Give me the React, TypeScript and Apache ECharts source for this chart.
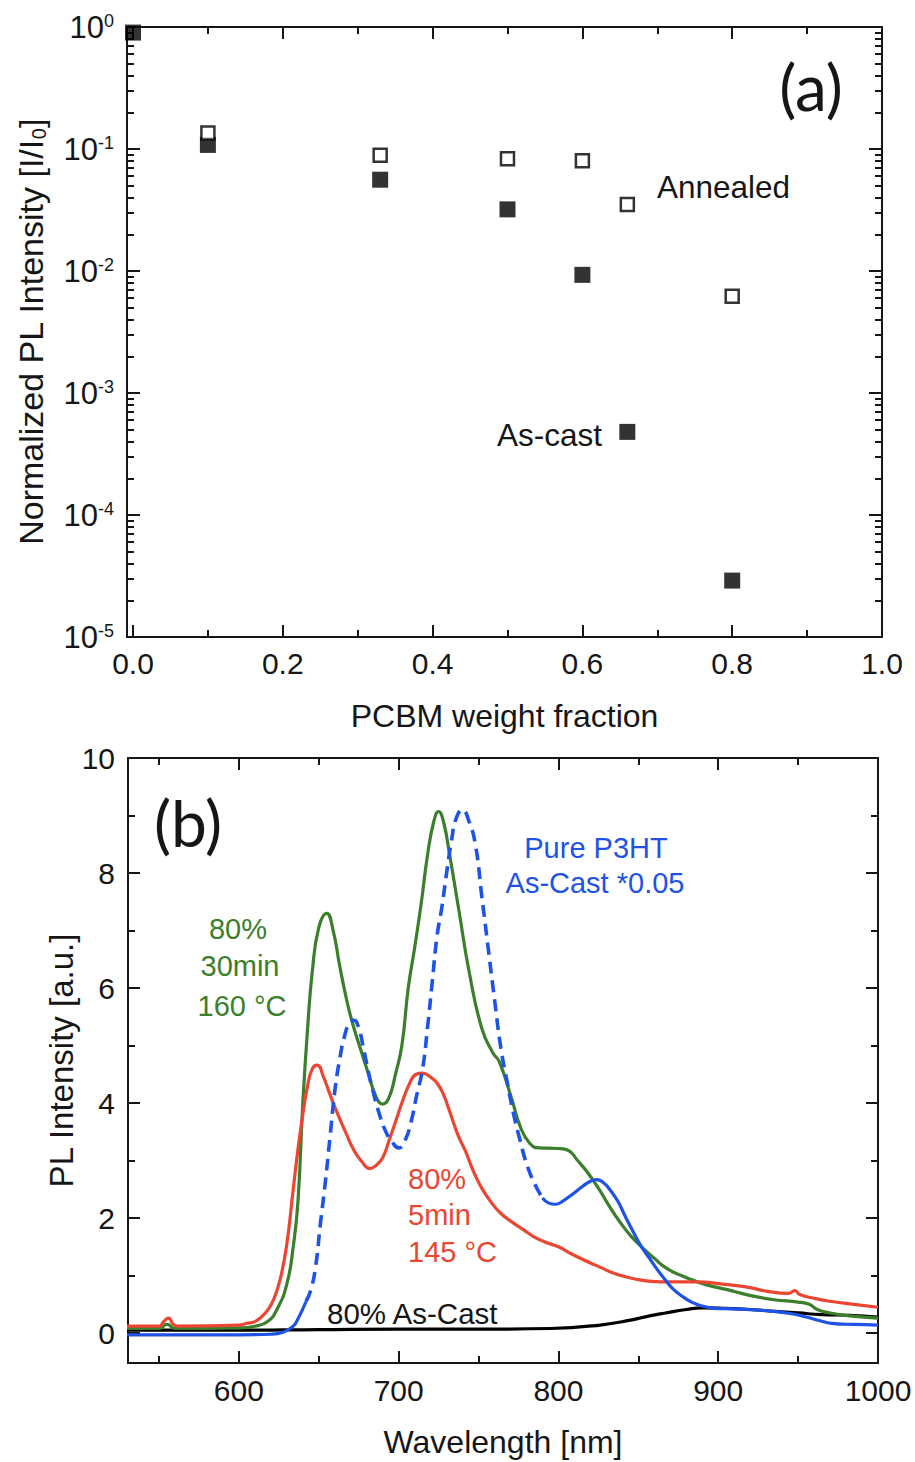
import React, { useEffect, useRef } from "react";
import * as echarts from "echarts";

const FONT = "'Liberation Sans', Arial, Helvetica, sans-serif";
const LABEL_FONT = "Lato, 'Open Sans', sans-serif";
const INK = "#161616";
const GREEN = "#3b7f2c";
const RED = "#eb4632";
const BLUE = "#1f52e6";

// ---------- Panel (a): normalized PL vs PCBM weight fraction ----------
const asCastFraction = [0, 0.1, 0.33, 0.5, 0.6, 0.66, 0.8];
const asCastPL = [0.9, 0.108, 0.056, 0.032, 0.0093, 0.00048, 0.000029];
const annealedFraction = [0.1, 0.33, 0.5, 0.6, 0.66, 0.8];
const annealedPL = [0.135, 0.089, 0.083, 0.08, 0.035, 0.0062];

const aXMajor = [0, 0.2, 0.4, 0.6, 0.8, 1.0];
const aXMinor = [0.1, 0.3, 0.5, 0.7, 0.9];
const aYMajor = [1e-5, 1e-4, 1e-3, 1e-2, 1e-1, 1];
const aYMinorMantissa = [2, 3, 4, 5, 6, 7, 8, 9];
const aYDecades = [1e-5, 1e-4, 1e-3, 1e-2, 1e-1];

// ---------- Panel (b): PL spectra ----------
const green80_30min_160C = [
  [530, 0.08], [550, 0.08], [555, 0.15], [560, 0.08], [600, 0.09], [610, 0.12], [618, 0.2],
  [624, 0.42], [630, 0.85], [634, 1.5], [637, 2.3], [640, 4.0], [643, 5.3], [646, 6.3],
  [650, 7.05], [655, 7.3], [659, 7.0], [663, 6.4], [667, 5.85], [671, 5.4], [676, 4.95],
  [680, 4.6], [686, 4.1], [690, 3.98], [694, 4.1], [698, 4.5], [702, 5.0], [706, 6.0],
  [710, 6.7], [714, 7.45], [718, 8.3], [722, 8.9], [725, 9.07], [728, 8.9], [732, 8.3],
  [738, 7.3], [744, 6.3], [752, 5.3], [759, 4.87], [763, 4.72], [771, 4.05], [776, 3.6],
  [782, 3.3], [788, 3.22], [800, 3.21], [806, 3.18], [812, 3.0], [818, 2.8], [825, 2.52],
  [832, 2.2], [838, 1.95], [845, 1.7], [852, 1.5], [860, 1.3], [868, 1.12], [877, 1.0],
  [886, 0.9], [894, 0.83], [905, 0.76], [919, 0.66], [935, 0.58], [950, 0.54], [957, 0.5],
  [962, 0.41], [970, 0.35], [982, 0.3], [1000, 0.26],
];

const red80_5min_145C = [
  [530, 0.12], [550, 0.12], [553, 0.2], [556, 0.26], [559, 0.15], [562, 0.12], [600, 0.14],
  [605, 0.17], [610, 0.2], [614, 0.28], [618, 0.4], [622, 0.6], [626, 0.95], [630, 1.55],
  [634, 2.5], [637, 3.2], [640, 3.8], [643, 4.3], [646, 4.6], [649, 4.66], [653, 4.45],
  [657, 4.15], [662, 3.8], [667, 3.48], [672, 3.18], [677, 2.98], [682, 2.86], [686, 2.92],
  [690, 3.05], [694, 3.35], [698, 3.67], [702, 4.0], [707, 4.35], [711, 4.5], [715, 4.52],
  [720, 4.45], [724, 4.35], [728, 4.15], [732, 3.85], [737, 3.45], [742, 3.15], [747, 2.8],
  [752, 2.52], [758, 2.27], [764, 2.08], [771, 1.93], [778, 1.8], [785, 1.67], [792, 1.58],
  [800, 1.5], [808, 1.38], [816, 1.27], [825, 1.16], [833, 1.06], [842, 0.98], [850, 0.93],
  [858, 0.9], [870, 0.89], [888, 0.89], [900, 0.86], [910, 0.83], [920, 0.79], [930, 0.73],
  [944, 0.69], [948, 0.74], [951, 0.67], [961, 0.6], [971, 0.55], [985, 0.5], [1000, 0.45],
];

const blueP3HTLow = [
  [530, -0.03], [600, -0.03], [620, -0.02], [628, 0.02], [634, 0.12], [637, 0.25], [640, 0.42],
  [642, 0.55],
];
const blueP3HTDashed = [
  [642, 0.55], [645, 0.75], [648, 1.15], [651, 1.9], [654, 2.6], [657, 3.4], [660, 4.2],
  [663, 4.75], [666, 5.15], [669, 5.38], [672, 5.44], [675, 5.3], [678, 4.95], [681, 4.55],
  [684, 4.2], [688, 3.8], [692, 3.5], [696, 3.32], [700, 3.22], [704, 3.35], [708, 3.7],
  [711, 4.1], [715, 4.6], [718, 5.3], [721, 6.1], [724, 6.9], [727, 7.4], [730, 8.0],
  [733, 8.55], [736, 8.95], [740, 9.1], [744, 8.9], [748, 8.5], [752, 7.6], [756, 6.7],
  [760, 5.8], [764, 4.95], [768, 4.35], [772, 3.8], [776, 3.35], [780, 2.95], [785, 2.6],
  [790, 2.35],
];
const blueP3HTHigh = [
  [790, 2.35], [794, 2.26], [798, 2.24], [803, 2.3], [809, 2.42], [815, 2.55], [820, 2.64],
  [824, 2.67], [828, 2.62], [832, 2.5], [837, 2.3], [842, 2.02], [847, 1.75], [852, 1.5],
  [857, 1.3], [862, 1.1], [867, 0.92], [872, 0.76], [878, 0.63], [884, 0.53], [890, 0.47],
  [898, 0.43], [910, 0.42], [930, 0.39], [945, 0.34], [955, 0.28], [963, 0.22], [971, 0.17],
  [985, 0.15], [1000, 0.14],
];

const black80AsCast = [
  [530, 0.05], [600, 0.05], [650, 0.06], [700, 0.07], [760, 0.07], [795, 0.08], [826, 0.14],
  [846, 0.23], [857, 0.3], [867, 0.35], [880, 0.41], [890, 0.44], [905, 0.43], [920, 0.41],
  [935, 0.38], [950, 0.35], [965, 0.32], [982, 0.31], [1000, 0.28],
];

const bXMajor = [600, 700, 800, 900, 1000];
const bXMinor = [550, 650, 750, 850, 950];
const bYMajor = [0, 2, 4, 6, 8, 10];
const bYMinor = [1, 3, 5, 7, 9];

// ---------- helpers ----------
function tickAxis(
  gridIndex: number,
  position: string,
  range: any,
  ticks: number[],
  len: number,
  showLine: boolean,
  label?: any,
  extra?: any
) {
  return {
    gridIndex,
    position,
    ...range,
    axisLine: { show: showLine, onZero: false, lineStyle: { color: INK, width: 2 } },
    axisTick: {
      show: true,
      inside: true,
      length: len,
      customValues: ticks,
      lineStyle: { color: INK, width: 2 },
    },
    axisLabel: label ?? { show: false },
    splitLine: { show: false },
    minorTick: { show: false },
    minorSplitLine: { show: false },
    nameMoveOverlap: false,
    ...(extra || {}),
  };
}

function buildOption() {
  const aYMinor: number[] = [];
  aYDecades.forEach((d) => aYMinorMantissa.forEach((m) => aYMinor.push(m * d)));

  const aXRange = { type: "value", min: -0.008, max: 1.0 };
  const aYRange = { type: "log", logBase: 10, min: 1e-5, max: 1 };
  const bXRange = { type: "value", min: 530.6, max: 1000 };
  const bYRange = { type: "value", min: -0.52, max: 10 };

  const tickText = { fontSize: 30, fontFamily: FONT, color: INK };

  const xAxes = [
    tickAxis(0, "bottom", aXRange, aXMajor, 12, true,
      { ...tickText, customValues: aXMajor, margin: 11, formatter: (v: number) => v.toFixed(1) },
      {
        name: "PCBM weight fraction", nameLocation: "middle", nameGap: 63,
        nameTextStyle: { fontSize: 32, fontFamily: FONT, color: INK },
      }),
    tickAxis(0, "bottom", aXRange, aXMinor, 7, false),
    tickAxis(0, "top", aXRange, aXMajor, 12, true),
    tickAxis(0, "top", aXRange, aXMinor, 7, false),
    tickAxis(1, "bottom", bXRange, bXMajor, 12, true,
      { ...tickText, customValues: bXMajor, margin: 12, formatter: (v: number) => String(v) },
      {
        name: "Wavelength [nm]", nameLocation: "middle", nameGap: 63,
        nameTextStyle: { fontSize: 32, fontFamily: FONT, color: INK },
      }),
    tickAxis(1, "bottom", bXRange, bXMinor, 7, false),
    tickAxis(1, "top", bXRange, bXMajor, 12, true),
    tickAxis(1, "top", bXRange, bXMinor, 7, false),
  ];

  const yAxes = [
    tickAxis(0, "left", aYRange, aYMajor, 13, true,
      {
        customValues: aYMajor,
        margin: 13,
        formatter: (v: number) => `{b|10}{s|${Math.round(Math.log10(v))}}`,
        rich: {
          b: { fontSize: 31, fontFamily: FONT, color: INK, lineHeight: 31 },
          s: { fontSize: 18, fontFamily: FONT, color: INK, lineHeight: 18, verticalAlign: "top" },
        },
      },
      {
        name: "{t|Normalized PL Intensity [I/I}{s|0}{t|]}",
        nameLocation: "middle", nameGap: 78, nameRotate: 90,
        nameTextStyle: {
          rich: {
            t: { fontSize: 34, fontFamily: FONT, color: INK, lineHeight: 36 },
            s: { fontSize: 20, fontFamily: FONT, color: INK, lineHeight: 20, verticalAlign: "bottom" },
          },
        },
      }),
    tickAxis(0, "left", aYRange, aYMinor, 7, false),
    tickAxis(0, "right", aYRange, aYMajor, 13, true),
    tickAxis(0, "right", aYRange, aYMinor, 7, false),
    tickAxis(1, "left", bYRange, bYMajor, 12, true,
      { ...tickText, customValues: bYMajor, margin: 13, formatter: (v: number) => String(v) },
      {
        name: "PL Intensity [a.u.]", nameLocation: "middle", nameGap: 50, nameRotate: 90,
        nameTextStyle: { fontSize: 33, fontFamily: FONT, color: INK },
      }),
    tickAxis(1, "left", bYRange, bYMinor, 7, false),
    tickAxis(1, "right", bYRange, bYMajor, 12, true),
    tickAxis(1, "right", bYRange, bYMinor, 7, false),
  ];

  const lineBase = {
    type: "line",
    xAxisIndex: 4,
    yAxisIndex: 4,
    showSymbol: false,
    symbol: "none",
    smooth: 0.5,
    clip: true,
  };

  const series: any[] = [
    {
      type: "scatter", name: "As-cast", xAxisIndex: 0, yAxisIndex: 0, symbol: "rect", symbolSize: 16,
      itemStyle: { color: "#000" },
      data: asCastFraction.map((x, i) => [x, asCastPL[i]]),
      z: 3,
    },
    {
      type: "scatter", name: "Annealed", xAxisIndex: 0, yAxisIndex: 0, symbol: "rect", symbolSize: 13,
      itemStyle: { color: "#fff", borderColor: "#000", borderWidth: 2.5 },
      data: annealedFraction.map((x, i) => [x, annealedPL[i]]),
      z: 4,
    },
    { ...lineBase, name: "80% As-Cast", data: black80AsCast, lineStyle: { color: "#000", width: 3.2 }, z: 2 },
    { ...lineBase, name: "80% 30min 160 °C", data: green80_30min_160C, lineStyle: { color: GREEN, width: 3.2 }, z: 3 },
    { ...lineBase, name: "80% 5min 145 °C", data: red80_5min_145C, lineStyle: { color: RED, width: 3.2 }, z: 4 },
    { ...lineBase, name: "Pure P3HT low", data: blueP3HTLow, lineStyle: { color: BLUE, width: 3.2 }, z: 5 },
    { ...lineBase, name: "Pure P3HT As-Cast *0.05", data: blueP3HTDashed, lineStyle: { color: BLUE, width: 3.6, type: [12, 7] }, z: 5 },
    { ...lineBase, name: "Pure P3HT high", data: blueP3HTHigh, lineStyle: { color: BLUE, width: 3.2 }, z: 5 },
  ];

  const txt = (text: string, x: number, y: number, color: string, size: number, align = "left", family = FONT) => ({
    type: "text",
    x,
    y,
    z: 100,
    style: { text, fill: color, font: `${size}px ${family}`, align, verticalAlign: "middle" },
  });

  const graphic = [
    txt("(a)", 811, 86, INK, 64, "center", LABEL_FONT),
    txt("Annealed", 657, 187, INK, 31.5),
    txt("As-cast", 497, 435, INK, 31.5),
    txt("(b)", 188, 822, INK, 64, "center", LABEL_FONT),
    txt("80%", 238, 929, GREEN, 29, "center"),
    txt("30min", 240, 966, GREEN, 29, "center"),
    txt("160 °C", 242, 1006, GREEN, 29, "center"),
    txt("Pure P3HT", 596, 848, BLUE, 29, "center"),
    txt("As-Cast *0.05", 595, 883, BLUE, 29, "center"),
    txt("80%", 408, 1179, RED, 29),
    txt("5min", 408, 1215, RED, 29),
    txt("145 °C", 408, 1252, RED, 29),
    txt("80% As-Cast", 327, 1313, INK, 29.5),
  ];

  return {
    animation: false,
    backgroundColor: "#ffffff",
    grid: [
      { left: 127, top: 27, width: 755, height: 610, containLabel: false, outerBoundsMode: "none" },
      { left: 128, top: 758, width: 750, height: 605, containLabel: false, outerBoundsMode: "none" },
    ],
    xAxis: xAxes,
    yAxis: yAxes,
    series,
    graphic,
  };
}

export default function App() {
  const ref = useRef<HTMLDivElement>(null);
  useEffect(() => {
    document.body.style.margin = "0";
    const chart = echarts.init(ref.current as HTMLDivElement, null, { renderer: "svg" });
    chart.setOption(buildOption() as any);
    return () => chart.dispose();
  }, []);
  return <div ref={ref} style={{ width: 915, height: 1462, background: "#fff" }} />;
}
